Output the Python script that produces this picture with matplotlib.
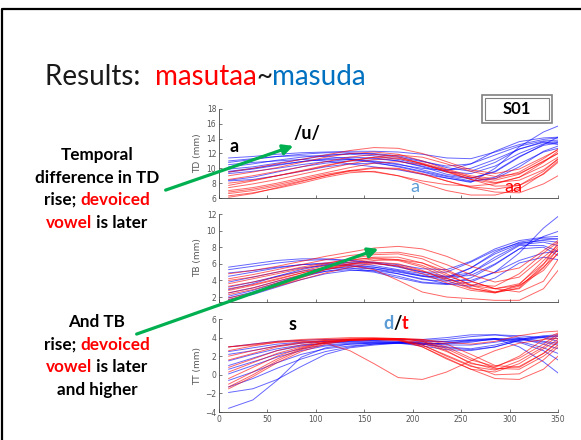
import numpy as np
import matplotlib
matplotlib.use('Agg')
import matplotlib.pyplot as plt
from matplotlib.transforms import IdentityTransform
from matplotlib.patches import FancyArrowPatch, Rectangle
from matplotlib.lines import Line2D

W, H = 581, 440

# sample times of every trajectory (x axis)
t = [10, 35, 60, 85, 110, 135, 160, 185, 210, 235, 260, 285, 310, 335, 350]

# TD (tongue dorsum) height, mm -- blue: masuda, red: masutaa
td_blue = [
    [11.4, 11.6, 11.9, 12.1, 12.2, 12.3, 12.3, 12.2, 11.9, 11.4, 11.3, 12.2, 13.2, 13.9, 14.1],
    [10.8, 11.2, 11.6, 11.9, 12.1, 12.1, 11.9, 11.5, 10.9, 10.3, 10.6, 11.8, 13.0, 13.7, 13.8],
    [10.2, 10.6, 11.1, 11.5, 11.8, 11.9, 11.7, 11.2, 10.5, 9.8, 10.0, 11.2, 12.6, 13.5, 13.6],
    [9.5, 9.9, 10.4, 10.9, 11.3, 11.5, 11.4, 11.0, 10.3, 9.5, 9.3, 10.3, 12.0, 13.3, 13.5],
    [9.3, 9.6, 10.0, 10.5, 10.9, 11.2, 11.3, 11.0, 10.2, 9.2, 8.7, 9.5, 11.5, 13.2, 14.2],
    [8.4, 8.8, 9.5, 10.2, 10.7, 11.0, 11.0, 10.6, 9.8, 9.0, 8.6, 9.6, 11.6, 13.1, 13.4],
    [8.3, 8.5, 9.0, 9.6, 10.2, 10.6, 10.7, 10.3, 9.6, 8.9, 8.3, 8.6, 10.2, 12.3, 13.0],
    [10.5, 10.8, 11.0, 11.2, 11.0, 10.6, 10.2, 9.8, 9.2, 8.7, 8.2, 8.8, 10.6, 12.2, 12.7],
    [9.6, 10.0, 10.5, 10.9, 11.2, 11.2, 10.8, 10.2, 9.5, 8.7, 8.1, 10.0, 12.9, 14.9, 15.7],
    [11.0, 11.3, 11.6, 11.7, 11.6, 11.3, 10.9, 10.5, 10.0, 9.7, 10.6, 12.3, 13.6, 14.1, 14.2],
    [9.9, 10.2, 10.7, 11.2, 11.7, 12.0, 12.0, 11.7, 11.0, 10.1, 9.6, 10.8, 12.6, 13.6, 13.2],
]
td_red = [
    [9.5, 10.0, 10.6, 11.2, 11.8, 12.4, 12.8, 12.7, 12.0, 10.9, 9.8, 9.3, 9.9, 11.5, 12.5],
    [9.0, 9.5, 10.1, 10.8, 11.5, 12.0, 12.2, 11.9, 11.0, 9.9, 9.0, 8.6, 9.5, 11.3, 12.6],
    [8.5, 9.0, 9.6, 10.2, 10.9, 11.5, 11.9, 11.6, 10.6, 9.5, 8.5, 8.0, 8.8, 10.8, 12.3],
    [8.0, 8.4, 9.0, 9.6, 10.3, 11.0, 11.5, 11.4, 10.6, 9.6, 8.8, 8.4, 9.2, 11.0, 12.0],
    [7.4, 7.9, 8.5, 9.2, 9.9, 10.6, 11.2, 11.3, 10.7, 9.8, 8.8, 8.1, 8.4, 9.8, 11.2],
    [7.0, 7.4, 8.0, 8.7, 9.4, 10.1, 10.7, 10.9, 10.5, 9.6, 8.5, 7.6, 7.7, 9.2, 10.8],
    [6.6, 7.0, 7.6, 8.3, 9.0, 9.6, 10.0, 9.9, 9.2, 8.3, 7.4, 6.8, 6.7, 7.9, 9.0],
    [6.3, 6.7, 7.3, 8.0, 8.8, 9.4, 9.6, 9.0, 8.0, 7.0, 6.4, 6.4, 7.2, 9.3, 11.0],
    [6.8, 7.2, 7.8, 8.5, 9.2, 9.7, 9.5, 9.0, 8.3, 7.8, 7.6, 7.9, 8.8, 10.3, 11.5],
    [7.7, 8.3, 9.0, 9.7, 10.4, 11.0, 11.5, 11.8, 11.5, 10.6, 9.6, 8.9, 9.3, 10.9, 12.0],
    [6.1, 6.6, 7.4, 8.2, 9.0, 9.7, 10.1, 10.0, 9.3, 8.3, 7.5, 7.2, 7.7, 9.6, 11.3],
]

# TB (tongue body) height, mm
tb_blue = [
    [5.6, 6.0, 6.4, 6.6, 6.6, 6.4, 6.2, 5.9, 5.4, 5.3, 6.3, 7.8, 8.8, 9.2, 9.3],
    [5.3, 5.7, 6.1, 6.4, 6.5, 6.4, 6.1, 5.6, 5.0, 5.0, 6.2, 7.6, 8.5, 8.8, 8.6],
    [4.9, 5.2, 5.6, 5.9, 6.0, 5.9, 5.6, 5.1, 4.5, 4.4, 5.5, 7.2, 8.4, 8.9, 9.0],
    [3.8, 4.4, 5.0, 5.5, 5.8, 5.8, 5.4, 4.8, 4.1, 3.9, 4.9, 6.8, 8.3, 8.6, 8.2],
    [3.2, 3.8, 4.5, 5.1, 5.5, 5.5, 5.1, 4.5, 3.8, 3.6, 4.3, 5.9, 7.8, 9.3, 9.9],
    [2.5, 3.1, 3.9, 4.6, 5.1, 5.3, 5.0, 4.3, 3.7, 3.5, 3.8, 5.0, 7.3, 10.3, 11.7],
    [1.9, 2.6, 3.5, 4.4, 5.1, 5.5, 5.4, 5.0, 4.5, 4.0, 4.0, 5.0, 6.4, 7.3, 7.5],
    [1.7, 2.3, 3.2, 4.1, 4.8, 5.2, 5.2, 4.8, 4.2, 3.6, 3.3, 4.3, 6.1, 6.8, 6.5],
    [2.9, 3.6, 4.5, 5.3, 5.9, 6.2, 6.1, 5.7, 5.0, 4.5, 4.9, 6.5, 8.2, 8.2, 7.5],
    [4.5, 5.0, 5.5, 5.9, 6.1, 6.1, 5.8, 5.3, 4.8, 4.4, 4.6, 6.0, 7.8, 8.0, 7.0],
    [2.1, 2.8, 3.7, 4.6, 5.3, 5.7, 5.6, 5.2, 4.6, 4.2, 5.5, 7.4, 8.6, 9.1, 9.0],
]
tb_red = [
    [4.8, 5.2, 5.7, 6.3, 6.9, 7.4, 7.9, 8.1, 7.8, 6.9, 5.7, 4.9, 5.5, 7.6, 8.8],
    [4.2, 4.7, 5.3, 5.9, 6.5, 7.0, 7.3, 7.4, 6.9, 5.9, 4.7, 3.8, 4.4, 6.8, 8.2],
    [3.6, 4.2, 4.8, 5.4, 6.0, 6.6, 7.1, 7.2, 6.6, 5.3, 3.9, 3.0, 3.6, 6.0, 7.7],
    [3.3, 3.8, 4.4, 5.1, 5.8, 6.4, 6.8, 6.8, 6.1, 4.8, 3.4, 2.6, 3.0, 5.5, 7.8],
    [2.8, 3.4, 4.1, 4.9, 5.6, 6.2, 6.6, 6.4, 5.6, 4.3, 3.1, 2.5, 3.1, 5.9, 8.5],
    [2.3, 2.9, 3.7, 4.5, 5.3, 5.9, 6.1, 5.7, 4.8, 3.7, 2.8, 2.5, 3.5, 6.4, 8.0],
    [1.9, 2.5, 3.3, 4.1, 4.9, 5.6, 6.0, 5.8, 5.1, 4.2, 3.4, 3.0, 3.4, 5.2, 7.3],
    [1.7, 2.4, 3.3, 4.3, 5.3, 5.8, 5.3, 4.0, 2.6, 2.0, 1.8, 1.6, 1.6, 3.0, 5.2],
    [3.0, 3.5, 4.2, 4.9, 5.5, 6.0, 6.2, 6.0, 5.2, 4.0, 3.0, 2.6, 3.3, 5.6, 7.2],
    [4.0, 4.4, 5.0, 5.6, 6.1, 6.5, 6.7, 6.5, 5.8, 4.6, 3.5, 3.3, 4.8, 7.3, 8.6],
    [2.5, 3.1, 3.9, 4.7, 5.4, 6.0, 6.4, 6.5, 6.1, 5.1, 3.9, 3.0, 2.6, 3.9, 6.5],
]

# TT (tongue tip) height, mm
tt_blue = [
    [3.0, 3.3, 3.6, 3.7, 3.8, 3.8, 3.8, 3.8, 3.7, 3.8, 4.1, 4.3, 4.2, 4.0, 3.9],
    [2.5, 2.9, 3.3, 3.5, 3.6, 3.6, 3.6, 3.5, 3.3, 3.0, 2.8, 3.2, 3.8, 4.2, 4.3],
    [1.5, 2.2, 2.8, 3.2, 3.4, 3.5, 3.5, 3.5, 3.4, 3.2, 3.2, 3.5, 3.9, 4.1, 4.2],
    [0.6, 1.4, 2.2, 2.8, 3.2, 3.4, 3.5, 3.5, 3.4, 3.3, 3.5, 3.9, 3.9, 3.3, 2.8],
    [0.1, 1.0, 1.9, 2.6, 3.1, 3.3, 3.4, 3.4, 3.1, 2.7, 2.6, 3.0, 3.7, 4.0, 3.6],
    [-0.6, 0.3, 1.3, 2.2, 2.8, 3.1, 3.3, 3.4, 3.3, 3.4, 3.7, 3.9, 3.0, 1.4, 0.2],
    [-1.9, -1.5, -0.5, 0.9, 2.2, 2.9, 3.2, 3.4, 3.5, 3.6, 3.8, 3.9, 3.6, 2.9, 2.3],
    [-3.6, -2.7, -0.6, 1.9, 2.9, 3.3, 3.4, 3.4, 3.3, 3.4, 3.6, 3.8, 3.8, 3.5, 3.2],
    [2.2, 2.6, 3.1, 3.4, 3.6, 3.7, 3.7, 3.6, 3.3, 2.9, 2.7, 3.0, 3.7, 4.1, 4.1],
    [1.0, 1.8, 2.6, 3.1, 3.4, 3.6, 3.7, 3.8, 3.8, 4.0, 4.3, 4.3, 4.0, 3.6, 3.4],
    [-1.3, -0.4, 0.7, 1.7, 2.5, 3.0, 3.3, 3.5, 3.6, 3.6, 3.7, 3.8, 3.5, 2.6, 1.6],
]
tt_red = [
    [3.0, 3.2, 3.5, 3.7, 3.8, 3.9, 3.9, 3.9, 3.8, 3.5, 3.3, 3.6, 4.2, 4.6, 4.7],
    [2.0, 2.6, 3.1, 3.5, 3.7, 3.8, 3.8, 3.9, 3.6, 2.8, 1.6, 0.9, 1.8, 3.3, 4.4],
    [1.6, 2.3, 3.0, 3.4, 3.7, 3.8, 3.8, 3.8, 3.2, 2.0, 0.9, 0.5, 1.5, 3.0, 4.2],
    [0.3, 1.3, 2.3, 3.0, 3.5, 3.7, 3.8, 3.7, 3.0, 1.7, 0.6, 0.3, 1.2, 2.8, 3.8],
    [-0.4, 0.8, 2.0, 2.9, 3.5, 3.7, 3.8, 3.7, 3.2, 2.1, 1.0, 0.0, 0.1, 1.6, 3.0],
    [-1.0, 0.3, 1.7, 2.8, 3.5, 3.8, 3.9, 3.8, 3.4, 2.5, 1.3, 0.6, 0.9, 2.3, 3.5],
    [-1.5, -0.2, 1.3, 2.5, 3.3, 3.7, 3.8, 3.8, 3.0, 1.8, 0.6, -0.4, -0.5, 0.6, 2.0],
    [2.6, 3.1, 3.5, 3.6, 3.4, 2.6, 1.2, -0.3, -0.5, 0.3, 1.5, 2.6, 3.4, 3.8, 3.9],
    [-1.3, 0.0, 1.5, 2.7, 3.4, 3.7, 3.8, 3.9, 3.7, 3.0, 1.8, 0.7, 0.6, 2.0, 3.2],
    [0.8, 1.7, 2.6, 3.2, 3.6, 3.8, 3.9, 3.9, 3.8, 3.3, 2.2, 1.0, 0.8, 2.3, 3.6],
    [3.0, 3.3, 3.6, 3.8, 3.9, 4.0, 4.0, 3.9, 3.6, 2.6, 1.2, 0.8, 2.0, 3.8, 4.5],
]

panel_names = ['TD (mm)', 'TB (mm)', 'TT (mm)']
panel_ylims = [(6, 18), (1.4, 12), (-4, 6)]
panel_yticks = [np.arange(6, 19, 2), np.arange(2, 13, 2), np.arange(-4, 7, 2)]
xticks = np.arange(0, 351, 50)

BLUE_TXT = '#5b9bd5'
GREEN = '#00b050'

fig = plt.figure(figsize=(W / 100, H / 100), dpi=100)
fig.patch.set_facecolor('white')


def fx(x):
    return x / W


def fy(y):
    return 1 - y / H


# axes boxes in pixels: left, top, right, bottom
boxes = [(219, 109, 558, 198), (219, 214, 558, 302), (219, 319, 558, 412)]
data = [(td_blue, td_red), (tb_blue, tb_red), (tt_blue, tt_red)]

for i, (l, tp, r, b) in enumerate(boxes):
    ax = fig.add_axes([fx(l), fy(b), (r - l) / W, (b - tp) / H])
    blues, reds = data[i]
    for row in blues:
        ax.plot(t, row, color='#0000ff', lw=0.7, alpha=0.6)
    for row in reds:
        ax.plot(t, row, color='#ff0000', lw=0.7, alpha=0.6)
    ax.set_xlim(0, 350)
    ax.set_ylim(*panel_ylims[i])
    ax.set_yticks(panel_yticks[i])
    ax.set_xticks(xticks)
    if i < 2:
        ax.set_xticklabels([])
    ax.spines['top'].set_visible(False)
    ax.spines['right'].set_visible(False)
    for s in ['left', 'bottom']:
        ax.spines[s].set_color('#444444')
        ax.spines[s].set_linewidth(0.6)
    ax.tick_params(direction='in', length=2.5, width=0.5, color='#444444',
                   labelsize=5.5, labelcolor='#555555', pad=2)
    ax.set_ylabel(panel_names[i], fontsize=6.5, color='#555555', labelpad=1)
    ax.yaxis.set_label_coords(-0.05, 0.5)
    ax.patch.set_alpha(0)

# slide frame (top and left edges visible)
fig.add_artist(Line2D([fx(2), fx(2), fx(600)], [fy(460), fy(9), fy(9)],
                      transform=fig.transFigure, color='black', lw=1.6))

ident = IdentityTransform()
renderer = fig.canvas.get_renderer()


def runs(x, y, parts, ha='left', **kw):
    # write pieces of text in different colours one after another (pixel coords)
    items = []
    for s, c in parts:
        tx = fig.text(0, H - y, s, color=c, transform=ident, va='baseline', **kw)
        items.append(tx)
    widths = [it.get_window_extent(renderer).width for it in items]
    total = sum(widths)
    x0 = x - total / 2 if ha == 'center' else x
    for it, w in zip(items, widths):
        it.set_x(x0)
        x0 += w


# title
runs(45, 85, [('Results:  ', '#1a1a1a'), ('masutaa', '#ff0000'),
              ('~', '#1a1a1a'), ('masuda', '#0070c0')],
     fontsize=20, family='Lato')

# left notes
note = dict(fontsize=12.3, family='Lato', fontweight='bold')
runs(97, 160, [('Temporal', 'black')], ha='center', **note)
runs(97, 183, [('difference in TD', 'black')], ha='center', **note)
runs(97, 205, [('rise; ', 'black'), ('devoiced', '#ff0000')], ha='center', **note)
runs(97, 228, [('vowel', '#ff0000'), (' is later', 'black')], ha='center', **note)
runs(97, 327, [('And TB', 'black')], ha='center', **note)
runs(97, 350, [('rise; ', 'black'), ('devoiced', '#ff0000')], ha='center', **note)
runs(97, 372, [('vowel', '#ff0000'), (' is later', 'black')], ha='center', **note)
runs(97, 395, [('and higher', 'black')], ha='center', **note)

# labels on the plot
lab = dict(fontsize=13, family='Lato')
runs(293, 139, [('/u/', 'black')], fontweight='bold', **lab)
runs(230, 152, [('a', 'black')], fontweight='bold', **lab)
runs(410, 192, [('a', BLUE_TXT)], **lab)
runs(504, 192, [('aa', '#ff0000')], **lab)
runs(289, 330, [('s', 'black')], fontweight='bold', **lab)
runs(383, 329, [('d', BLUE_TXT), ('/', 'black'), ('t', '#ff0000')], fontweight='bold', **lab)

# subject box
fig.add_artist(Rectangle((fx(482), fy(123)), fx(552) - fx(482), fy(95) - fy(123),
                         transform=fig.transFigure, fill=False, ec='#808080', lw=1.2))
fig.add_artist(Rectangle((fx(485), fy(120)), fx(549) - fx(485), fy(98) - fy(120),
                         transform=fig.transFigure, fill=False, ec='#808080', lw=0.8))
runs(517, 114, [('S01', 'black')], ha='center', fontsize=12, family='Lato', fontweight='bold')

# green arrows
for (x0, y0), (x1, y1) in [((163, 191), (296, 145)), ((134, 335), (381, 248))]:
    fig.add_artist(FancyArrowPatch((fx(x0), fy(y0)), (fx(x1), fy(y1)),
                                   transform=fig.transFigure, arrowstyle='-|>',
                                   mutation_scale=15, color=GREEN, lw=2.3))

fig.savefig('out.png', dpi=100, facecolor='white')
